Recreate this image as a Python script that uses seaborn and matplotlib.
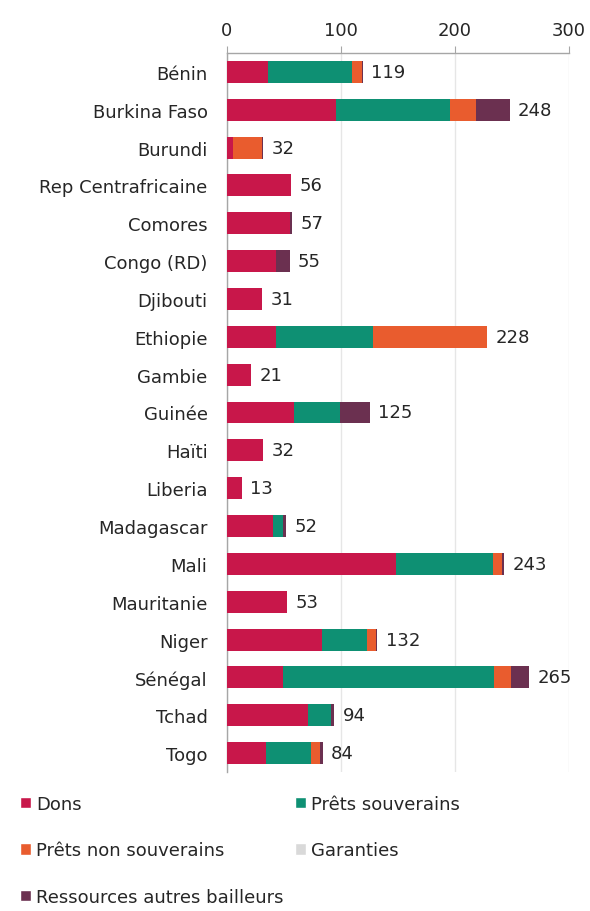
import matplotlib
matplotlib.use("Agg")
import matplotlib.pyplot as plt
import matplotlib.patches as mpatches
import seaborn as sns
import pandas as pd
import numpy as np

# --- Data ---
countries = ["Bénin", "Burkina Faso", "Burundi", "Rep Centrafricaine", "Comores",
             "Congo (RD)", "Djibouti", "Ethiopie", "Gambie", "Guinée", "Haïti",
             "Liberia", "Madagascar", "Mali", "Mauritanie", "Niger", "Sénégal",
             "Tchad", "Togo"]
dons = [36, 96, 5, 56, 55, 43, 31, 43, 21, 59, 32, 13, 40, 148, 53, 83, 49, 71, 34]
prets_souverains = [74, 100, 0, 0, 0, 0, 0, 85, 0, 40, 0, 0, 9, 85, 0, 40, 185, 20, 40]
prets_non_souverains = [8, 22, 26, 0, 0, 0, 0, 100, 0, 0, 0, 0, 0, 8, 0, 8, 15, 0, 8]
garanties = [0] * 19
autres_bailleurs = [1, 30, 1, 0, 2, 12, 0, 0, 0, 26, 0, 0, 3, 2, 0, 1, 16, 3, 2]
totals = [119, 248, 32, 56, 57, 55, 31, 228, 21, 125, 32, 13, 52, 243, 53, 132, 265, 94, 84]

series_names = ["Dons", "Prêts souverains", "Prêts non souverains", "Garanties",
                "Ressources autres bailleurs"]
colors = ["#C8174A", "#0E9073", "#E95C2E", "#D9D9D9", "#6B3050"]

df = pd.DataFrame({"Pays": countries, "Dons": dons,
                   "Prêts souverains": prets_souverains,
                   "Prêts non souverains": prets_non_souverains,
                   "Garanties": garanties,
                   "Ressources autres bailleurs": autres_bailleurs})

# cumulative sums so we can overlay bars (largest first) to get a stacked look
cum = df[series_names].cumsum(axis=1)

sns.set_style("white")
plt.rcParams["font.family"] = ["DejaVu Sans"]
text_color = "#262626"
axis_color = "#A6A6A6"

fig = plt.figure(figsize=(5.9, 9.12), dpi=100)
ax = fig.add_axes([227 / 590, 1 - 773 / 912, (569 - 227) / 590, (773 - 54) / 912])

for name, col in reversed(list(zip(series_names, colors))):
    sns.barplot(x=cum[name], y=df["Pays"], orient="h", color=col, saturation=1,
                width=0.58, linewidth=0, ax=ax, zorder=3)

# totals at the end of each bar
for i, tot in enumerate(totals):
    ax.annotate(str(tot), xy=(tot, i), xytext=(6, 0), textcoords="offset points",
                va="center", ha="left", fontsize=13, color=text_color)

ax.set_xlim(0, 300)
ax.set_ylim(len(countries) - 0.5, -0.5)
ax.set_xticks([0, 100, 200, 300])
ax.xaxis.tick_top()
ax.tick_params(axis="x", length=5, color=axis_color, labelsize=13,
               labelcolor=text_color, pad=5)
ax.tick_params(axis="y", which="major", length=0, labelsize=13,
               labelcolor=text_color, pad=14)
ax.set_yticks(np.arange(-0.5, len(countries), 1), minor=True)
ax.tick_params(axis="y", which="minor", length=5, color=axis_color)
ax.grid(axis="x", color="#E6E6E6", linewidth=1, zorder=0)
ax.set_axisbelow(True)
ax.set_xlabel("")
ax.set_ylabel("")

for side in ["right", "bottom"]:
    ax.spines[side].set_visible(False)
for side in ["top", "left"]:
    ax.spines[side].set_color(axis_color)
    ax.spines[side].set_linewidth(1)

# legend filled column-wise, so reorder to read row-wise like the reference
handles = [mpatches.Patch(facecolor=c, label=n) for n, c in zip(series_names, colors)]
order = [0, 2, 4, 1, 3]
fig.legend(handles=[handles[k] for k in order], loc="upper left",
           bbox_to_anchor=(0.022, 0.1355), ncol=2, frameon=False, fontsize=13,
           handlelength=0.6, handleheight=0.6, handletextpad=0.3,
           labelspacing=1.58, columnspacing=0.6, labelcolor=text_color,
           borderaxespad=0)

fig.savefig("out.png", dpi=100)
